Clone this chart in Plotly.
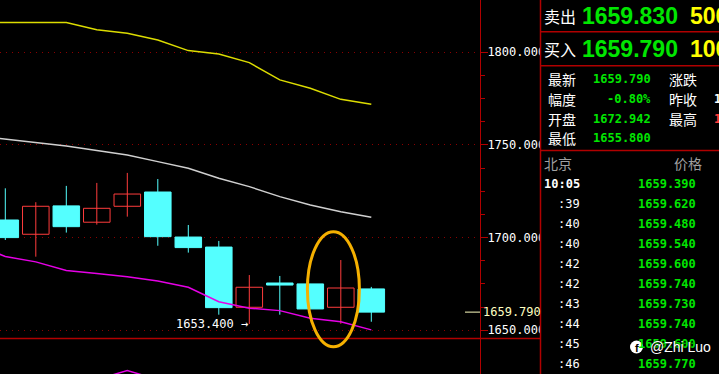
import plotly.graph_objects as go

W, H = 719, 374

# ---------------- data ----------------
idx = list(range(13))
opens  = [1709.5, 1701.8, 1717.1, 1708.3, 1716.9, 1724.6, 1700.3, 1694.9, 1662.4, 1675.5, 1675.0, 1662.4, 1672.3]
highs  = [1726.6, 1719.1, 1727.9, 1729.5, 1734.9, 1731.6, 1706.8, 1698.2, 1679.8, 1679.3, 1675.0, 1687.9, 1673.4]
lows   = [1698.7, 1689.7, 1702.7, 1707.0, 1711.3, 1695.6, 1691.9, 1658.4, 1653.4, 1658.4, 1661.5, 1653.5, 1654.6]
closes = [1700.0, 1716.9, 1705.9, 1715.8, 1723.5, 1700.5, 1694.6, 1662.2, 1673.2, 1674.4, 1661.5, 1672.8, 1659.79]

ma_idx = list(range(-1, 13))
ma_yellow = [1816.0, 1816.0, 1816.0, 1816.0, 1812.2, 1810.3, 1806.6, 1800.9, 1799.1, 1794.4, 1785.1, 1780.6, 1774.6, 1771.9]
ma_white = [1755.1, 1753.2, 1751.3, 1749.4, 1747.0, 1744.6, 1741.0, 1737.4, 1732.0, 1727.5, 1722.1, 1717.6, 1714.0, 1711.0]
ma_magenta = [1696.5, 1689.8, 1686.9, 1682.3, 1680.6, 1678.9, 1676.6, 1673.2, 1665.4, 1661.9, 1660.6, 1656.5, 1654.6, 1650.2]

lower_idx = [3, 4, 5]
lower_vals = [-1.6, 1.0, -1.6]

y_ticks = [1650, 1700, 1750, 1800]
y_minor = [1662.5, 1675, 1687.5, 1712.5, 1725, 1737.5, 1762.5, 1775, 1787.5]

low_mark_idx = 8
low_mark_val = 1653.4
highlight_idx = 11

sell_price, sell_vol = "1659.830", "500"
buy_price, buy_vol = "1659.790", "100"
info_left = [("最新", "1659.790"), ("幅度", "-0.80%"), ("开盘", "1672.942"), ("最低", "1655.800")]
info_right = [("涨跌", "", "#FFFFFF"), ("昨收", "1673.180", "#FFFFFF"), ("最高", "1678.250", "#FF3C3C")]
tick_times = ["10:05", ":39", ":40", ":40", ":42", ":42", ":43", ":44", ":45", ":46"]
tick_prices = ["1659.390", "1659.620", "1659.480", "1659.540", "1659.600",
               "1659.740", "1659.730", "1659.740", "1659.600", "1659.770"]

# ---------------- colours ----------------
RED = "#FF3C3C"
CYAN = "#54FFFF"
GRID = "#8B0000"
FRAME = "#B00000"
GREEN = "#00E600"
MONO = "DejaVu Sans Mono"
CJK = "Noto Sans CJK SC"

fig = go.Figure()

# wicks
for up in (True, False):
    xs, ys = [], []
    for i, o, h, l, c in zip(idx, opens, highs, lows, closes):
        if (c >= o) == up:
            xs += [i, i, None]
            ys += [l, h, None]
    fig.add_trace(go.Scatter(x=xs, y=ys, mode="lines",
                             line=dict(color=RED if up else CYAN, width=1),
                             hoverinfo="skip"))

# bodies
bases = [min(o, c) for o, c in zip(opens, closes)]
heights = [abs(c - o) for o, c in zip(opens, closes)]
fills = ["#000000" if c >= o else CYAN for o, c in zip(opens, closes)]
edges = [RED if c >= o else CYAN for o, c in zip(opens, closes)]
fig.add_trace(go.Bar(x=idx, y=heights, base=bases, width=0.87,
                     marker=dict(color=fills, line=dict(color=edges, width=1))))

# moving averages
fig.add_trace(go.Scatter(x=ma_idx, y=ma_yellow, mode="lines", line=dict(color="#DCDC00", width=1.5)))
fig.add_trace(go.Scatter(x=ma_idx, y=ma_white, mode="lines", line=dict(color="#D0D0D0", width=1.5)))
fig.add_trace(go.Scatter(x=ma_idx, y=ma_magenta, mode="lines", line=dict(color="#E600E6", width=1.5)))

# lower indicator pane
fig.add_trace(go.Scatter(x=lower_idx, y=lower_vals, mode="lines", yaxis="y2",
                         line=dict(color="#E600E6", width=1.5)))

x_px0 = 5.3
x_step = 30.5
plot_w = 480
xr0 = -x_px0 / x_step
xr1 = xr0 + plot_w / x_step

fig.update_layout(
    width=W, height=H,
    margin=dict(l=0, r=0, t=0, b=0),
    paper_bgcolor="black", plot_bgcolor="black",
    showlegend=False, barmode="overlay", hovermode=False,
    xaxis=dict(domain=[0, plot_w / W], range=[xr0, xr1], visible=False),
    yaxis=dict(domain=[0, 1], range=[1626.4, 1828.2], side="right",
               tickvals=y_ticks, tickformat=".3f",
               ticks="outside", ticklen=7, tickcolor=FRAME, tickwidth=1,
               showline=True, linecolor=FRAME, linewidth=1,
               showgrid=True, gridcolor=GRID, gridwidth=1, griddash="1px,5px",
               zeroline=False, ticklabelstandoff=-3,
               tickfont=dict(family=MONO, size=12, color="white"),
               minor=dict(tickvals=y_minor, ticks="outside", ticklen=4,
                          tickcolor=FRAME, showgrid=False)),
    yaxis2=dict(domain=[0, 35 / H], range=[0, 10], visible=False, anchor="x"),
)

def py(p):
    return 1 - p / H

def px(p):
    return p / W

shapes = []
# pane separator
shapes.append(dict(type="line", xref="paper", yref="paper", x0=0, x1=px(540.5),
                   y0=py(338.5), y1=py(338.5), line=dict(color=FRAME, width=1.5)))
# current price marker line
shapes.append(dict(type="line", xref="paper", yref="y", x0=px(465), x1=px(480),
                   y0=closes[-1], y1=closes[-1], line=dict(color="#FFFFC0", width=1)))
# right panel cover and frame
shapes.append(dict(type="rect", xref="paper", yref="paper", x0=px(541), x1=1.0,
                   y0=0, y1=1, fillcolor="black", line=dict(width=0), layer="above"))
shapes.append(dict(type="line", xref="paper", yref="paper", x0=px(540.5), x1=px(540.5),
                   y0=0, y1=1, line=dict(color=FRAME, width=1.5), layer="above"))
for yy in (31.7, 65.7, 150.5):
    shapes.append(dict(type="line", xref="paper", yref="paper", x0=px(540.5), x1=1.0,
                       y0=py(yy), y1=py(yy), line=dict(color=FRAME, width=1.5), layer="above"))
# highlight ellipse
shapes.append(dict(type="circle", xref="x", yref="y",
                   x0=highlight_idx - 1.095, x1=highlight_idx + 0.61,
                   y0=1641.1, y1=1703.2, line=dict(color="#F5B000", width=3), layer="above"))
# watermark icon
shapes.append(dict(type="circle", xref="paper", yref="paper", x0=px(630), x1=px(643),
                   y0=py(353.5), y1=py(340.5), fillcolor="white", line=dict(width=0), layer="above"))

anns = []
def ann(text, x, y, color="white", size=12, family=MONO, anchor="left", bold=False, yref="paper"):
    t = f"<b>{text}</b>" if bold else text
    anns.append(dict(text=t, x=px(x), y=py(y) if yref == "paper" else y, xref="paper", yref=yref,
                     xanchor=anchor, yanchor="middle", showarrow=False,
                     font=dict(color=color, size=size, family=family)))

# low marker annotation
anns.append(dict(text=f"{low_mark_val:.3f} →", x=low_mark_idx, y=low_mark_val, xref="x", yref="y",
                 xanchor="right", yanchor="middle", showarrow=False, xshift=1,
                 font=dict(color="white", size=12, family=MONO)))
# current price label
ann(f"{closes[-1]:.3f}", 481, closes[-1], color="#FFFFC0", yref="y")

# right panel
ann("卖出", 542, 16, size=16, family=CJK)
ann(sell_price, 580, 16.5, color=GREEN, size=23, family="Liberation Sans", bold=True)
ann(sell_vol, 688, 16.5, color="#FFFF00", size=23, family="Liberation Sans", bold=True)
ann("买入", 542, 49, size=16, family=CJK)
ann(buy_price, 580, 49.5, color=GREEN, size=23, family="Liberation Sans", bold=True)
ann(buy_vol, 688, 49.5, color="#FFFF00", size=23, family="Liberation Sans", bold=True)

rows_y = [79, 98.7, 118.7, 138.3]
for (lab, val), yy in zip(info_left, rows_y):
    ann(lab, 546, yy, size=14, family=CJK)
    ann(val, 653, yy, color=GREEN, size=12, bold=True, anchor="right")
for (lab, val, col), yy in zip(info_right, rows_y):
    ann(lab, 667, yy, size=14, family=CJK)
    if val:
        ann(val, 712, yy, color=col, size=12, bold=True)

ann("北京", 542, 163.3, color="#A0A0A0", size=14, family=CJK)
ann("价格", 672, 163.3, color="#A0A0A0", size=14, family=CJK)
for k, (t, p) in enumerate(zip(tick_times, tick_prices)):
    yy = 184 + 20 * k
    ann(t, 582, yy, color="white", size=12, bold=(k == 0), anchor="right")
    ann(p, 698, yy, color=GREEN, size=12, bold=True, anchor="right")

# watermark
ann("f", 636.5, 348, color="black", size=11, family="Liberation Sans", anchor="center", bold=True)
anns.append(dict(text="@Zhi Luo", x=px(648), y=py(347), xref="paper", yref="paper",
                 xanchor="left", yanchor="middle", showarrow=False,
                 font=dict(color="white", size=14, family="Liberation Sans",
                           shadow="1px 1px 2px black")))

fig.update_layout(shapes=shapes, annotations=anns)
fig.write_html("out.html")
